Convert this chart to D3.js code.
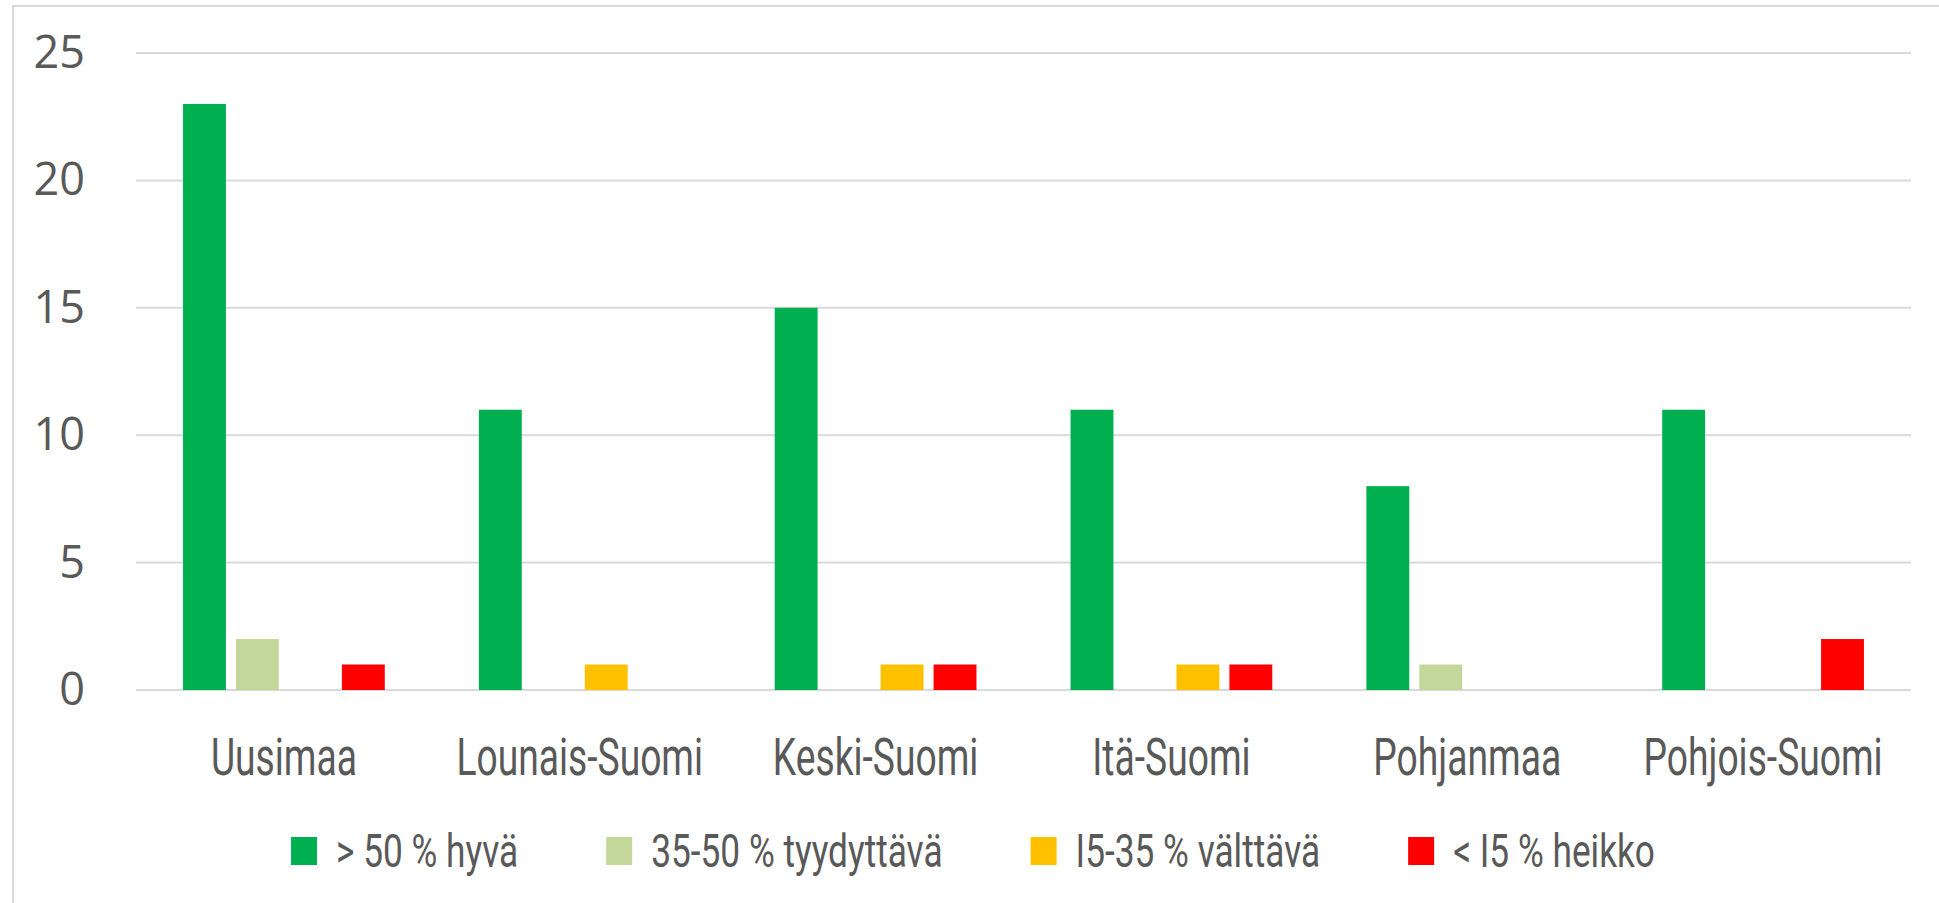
<!DOCTYPE html>
<html>
<head>
<meta charset="utf-8">
<script src="https://cdn.jsdelivr.net/npm/d3@7"></script>
<style>
  body { margin: 0; background: #fff; }
</style>
</head>
<body>
<svg id="chart"></svg>
<script>
// data
var regions = ["Uusimaa", "Lounais-Suomi", "Keski-Suomi", "Itä-Suomi", "Pohjanmaa", "Pohjois-Suomi"];
var seriesNames = ["> 50 % hyvä", "35-50 % tyydyttävä", "I5-35 % välttävä", "< I5 % heikko"];
var hyva = [23, 11, 15, 11, 8, 11];
var tyydyttava = [2, 0, 0, 0, 1, 0];
var valttava = [0, 1, 1, 1, 0, 0];
var heikko = [1, 0, 1, 1, 0, 2];
var yTicks = [0, 5, 10, 15, 20, 25];

var series = [hyva, tyydyttava, valttava, heikko];
var colors = ["#00B050", "#C4D79B", "#FFC000", "#FF0000"];

// parameters
var width = 1939;
var height = 903;
var plotLeft = 136, plotRight = 1911, plotTop = 53, plotBottom = 690;
var narrowFont = "Roboto, 'Liberation Sans', sans-serif";

var svg = d3.select("#chart");
svg.attr("width", width);
svg.attr("height", height);

// chart border
svg.append("rect")
  .attr("x", 13).attr("y", 6)
  .attr("width", 1940).attr("height", 910)
  .attr("fill", "none")
  .attr("stroke", "#D9D9D9")
  .attr("stroke-width", 2);

// scales
var x0 = d3.scaleBand().domain(regions).range([plotLeft, plotRight])
  .paddingInner(0.318).paddingOuter(0.159);
var x1 = d3.scaleBand().domain(d3.range(series.length)).range([0, x0.bandwidth()])
  .paddingInner(0.19).paddingOuter(0);
var y = d3.scaleLinear().domain([0, 25]).range([plotBottom, plotTop]);

// grid
var grid = svg.append("g");
yTicks.forEach(function (t) {
  grid.append("line")
    .attr("x1", plotLeft).attr("x2", plotRight)
    .attr("y1", y(t)).attr("y2", y(t))
    .attr("stroke", "#D9D9D9")
    .attr("stroke-width", 2);
});

// y labels
var yAxis = d3.axisLeft(y).tickValues(yTicks).tickSize(0).tickPadding(0);
var ya = svg.append("g").attr("transform", "translate(85,0)").call(yAxis);
ya.select(".domain").remove();
ya.selectAll("text")
  .attr("font-family", "'Open Sans', sans-serif")
  .attr("font-size", "45px")
  .attr("fill", "#595959");

// bars
for (var s = 0; s < series.length; s++) {
  for (var i = 0; i < regions.length; i++) {
    var v = series[s][i];
    if (!v) continue;
    svg.append("rect")
      .attr("x", x0(regions[i]) + x1(s))
      .attr("y", y(v))
      .attr("width", x1.bandwidth())
      .attr("height", y(0) - y(v))
      .attr("fill", colors[s]);
  }
}

// x labels (narrow look: squeeze horizontally)
var xAxis = d3.axisBottom(x0).tickSize(0).tickPadding(0);
var xa = svg.append("g").attr("transform", "translate(0,775)").call(xAxis);
xa.select(".domain").remove();
xa.selectAll("text")
  .attr("dy", 0)
  .attr("transform", "scale(0.73,1)")
  .attr("font-family", narrowFont)
  .attr("font-size", "51px")
  .attr("fill", "#595959");

// legend
var squeeze = 0.75;
var legend = svg.append("g");
var lx = 0;
for (var s = 0; s < seriesNames.length; s++) {
  var g = legend.append("g");
  g.append("rect")
    .attr("x", 0).attr("y", -14)
    .attr("width", 26).attr("height", 28)
    .attr("fill", colors[s]);
  var t = g.append("text")
    .attr("transform", "translate(45,16) scale(" + squeeze + ",1)")
    .attr("font-family", narrowFont)
    .attr("font-size", "47px")
    .attr("fill", "#595959")
    .text(seriesNames[s]);
  g.attr("transform", "translate(" + lx + ",0)");
  lx += 45 + t.node().getComputedTextLength() * squeeze + 88;
}
var legendWidth = lx - 88;
legend.attr("transform", "translate(" + (973 - legendWidth / 2) + ",851)");
</script>
</body>
</html>
